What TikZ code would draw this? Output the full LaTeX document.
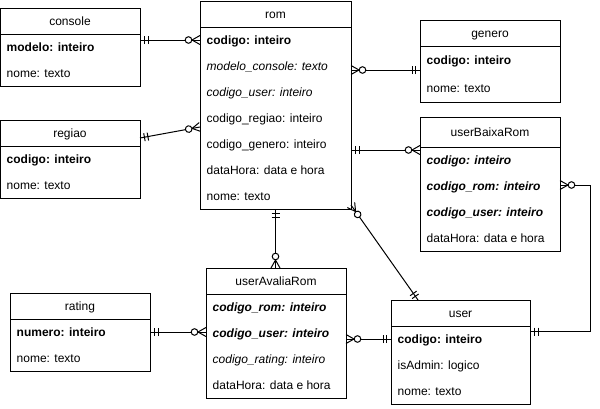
\documentclass[tikz,border=0pt]{standalone}
\usepackage{fontspec}
\setmainfont{Liberation Sans}
\usetikzlibrary{decorations.markings}
\tikzset{
  tbl/.style={draw,line width=1pt,anchor=north west,inner sep=0pt,outer sep=0pt},
  ttl/.style={font=\fontsize{12}{14}\selectfont,inner sep=0pt,text height=10.9pt,text depth=2.5pt},
  fld/.style={ttl,anchor=west},
  rel/.style={line width=1pt},
  bars/.style={line width=1pt},
  one start/.style={postaction={decorate,decoration={markings,
      mark=at position 4.5pt with {\draw[bars] (0,-4pt) -- (0,4pt);},
      mark=at position 8pt with {\draw[bars] (0,-4pt) -- (0,4pt);}}}},
  one end/.style={postaction={decorate,decoration={markings,
      mark=at position -4.5pt with {\draw[bars] (0,-4pt) -- (0,4pt);},
      mark=at position -8pt with {\draw[bars] (0,-4pt) -- (0,4pt);}}}},
  many start/.style={postaction={decorate,decoration={markings,
      mark=at position 8pt with {\draw[bars] (0,0) -- (-8pt,4.5pt) (0,0) -- (-8pt,-4.5pt);},
      mark=at position 11.5pt with {\draw[bars,fill=white] (0,0) circle[radius=3.3pt];}}}},
  many end/.style={postaction={decorate,decoration={markings,
      mark=at position -8pt with {\draw[bars] (0,0) -- (8pt,4.5pt) (0,0) -- (8pt,-4.5pt);},
      mark=at position -11.5pt with {\draw[bars,fill=white] (0,0) circle[radius=3.3pt];}}}}
}
\begin{document}
\begin{tikzpicture}[x=1pt,y=-1pt]
  \fill[white] (0,0) rectangle (600,408);
  \useasboundingbox (0,0) rectangle (600,408);

  % console
  \node[tbl,minimum width=139.5pt,minimum height=78pt] (console) at (0.5,8) {};
  \draw[rel] ([yshift=-26pt]console.north west) -- ([yshift=-26pt]console.north east);
  \node[ttl] (console-t) at (70,21) {console};
  \foreach \t [count=\i] in {{\textbf{modelo: inteiro}},{nome: texto}}
    \node[fld] (console-\i) at (6.5,{21+26*\i}) {\t};

  % regiao
  \node[tbl,minimum width=139.5pt,minimum height=78pt] (regiao) at (0.5,120) {};
  \draw[rel] ([yshift=-26pt]regiao.north west) -- ([yshift=-26pt]regiao.north east);
  \node[ttl] (regiao-t) at (70,133) {regiao};
  \foreach \t [count=\i] in {{\textbf{codigo: inteiro}},{nome: texto}}
    \node[fld] (regiao-\i) at (6.5,{133+26*\i}) {\t};

  % rom
  \node[tbl,minimum width=151pt,minimum height=208pt] (rom) at (200,1) {};
  \draw[rel] ([yshift=-26pt]rom.north west) -- ([yshift=-26pt]rom.north east);
  \node[ttl] (rom-t) at (275.5,14) {rom};
  \foreach \t [count=\i] in {{\textbf{codigo: inteiro}},{\textit{modelo\_console: texto}},
      {\textit{codigo\_user: inteiro}},{codigo\_regiao: inteiro},{codigo\_genero: inteiro},
      {dataHora: data e hora},{nome: texto}}
    \node[fld] (rom-\i) at (206.5,{14+26*\i}) {\t};

  % genero
  \node[tbl,minimum width=140pt,minimum height=82pt] (genero) at (420,20) {};
  \draw[rel] ([yshift=-26pt]genero.north west) -- ([yshift=-26pt]genero.north east);
  \node[ttl] (genero-t) at (490,33) {genero};
  \foreach \t [count=\i] in {{\textbf{codigo: inteiro}},{nome: texto}}
    \node[fld] (genero-\i) at (426.5,{32+28*\i}) {\t};

  % userBaixaRom
  \node[tbl,minimum width=140pt,minimum height=134pt] (ubr) at (420,117) {};
  \draw[rel] ([yshift=-30pt]ubr.north west) -- ([yshift=-30pt]ubr.north east);
  \node[ttl] (ubr-t) at (490,132) {userBaixaRom};
  \foreach \t [count=\i] in {{\textbf{\textit{codigo: inteiro}}},{\textbf{\textit{codigo\_rom: inteiro}}},
      {\textbf{\textit{codigo\_user: inteiro}}},{dataHora: data e hora}}
    \node[fld] (ubr-\i) at (426.5,{134+26*\i}) {\t};

  % rating
  \node[tbl,minimum width=139.5pt,minimum height=78pt] (rating) at (10.5,293) {};
  \draw[rel] ([yshift=-26pt]rating.north west) -- ([yshift=-26pt]rating.north east);
  \node[ttl] (rating-t) at (80,306) {rating};
  \foreach \t [count=\i] in {{\textbf{numero: inteiro}},{nome: texto}}
    \node[fld] (rating-\i) at (16.5,{306+26*\i}) {\t};

  % userAvaliaRom
  \node[tbl,minimum width=140pt,minimum height=130pt] (uar) at (206,268) {};
  \draw[rel] ([yshift=-26pt]uar.north west) -- ([yshift=-26pt]uar.north east);
  \node[ttl] (uar-t) at (276,281) {userAvaliaRom};
  \foreach \t [count=\i] in {{\textbf{\textit{codigo\_rom: inteiro}}},{\textbf{\textit{codigo\_user: inteiro}}},
      {\textit{codigo\_rating: inteiro}},{dataHora: data e hora}}
    \node[fld] (uar-\i) at (212.5,{281+26*\i}) {\t};

  % user
  \node[tbl,minimum width=139pt,minimum height=104pt] (user) at (391,300) {};
  \draw[rel] ([yshift=-26pt]user.north west) -- ([yshift=-26pt]user.north east);
  \node[ttl] (user-t) at (460.5,313) {user};
  \foreach \t [count=\i] in {{\textbf{codigo: inteiro}},{isAdmin: logico},{nome: texto}}
    \node[fld] (user-\i) at (397.5,{313+26*\i}) {\t};

  % relacoes
  \draw[rel,one start,many end] (console.east |- rom-1) -- (rom.west |- rom-1);
  \draw[rel,one start,many end] ([yshift=-18pt]regiao.north east) -- ([yshift=-126pt]rom.north west);
  \draw[rel,many start,one end] ([yshift=-69pt]rom.north east) -- ([yshift=-50pt]genero.north west);
  \draw[rel,one start,many end] ([yshift=-149pt]rom.north east) -- ([yshift=-33pt]ubr.north west);
  \draw[rel,many start,one end] ([yshift=-68pt]ubr.north east) -| ([xshift=60pt,yshift=-31.5pt]user.north east)
    -- ([yshift=-31.5pt]user.north east);
  \draw[rel,many start,one end] ([yshift=4pt]rom.south east) -- ([xshift=27pt]user.north west);
  \draw[rel,one start,many end] (rom.south) -- (rom.south |- uar.north);
  \draw[rel,one start,many end] (rating.east |- rating-1) -- (uar.west |- rating-1);
  \draw[rel,many start,one end] (uar.east |- user-1) -- (user.west |- user-1);
\end{tikzpicture}
\end{document}
